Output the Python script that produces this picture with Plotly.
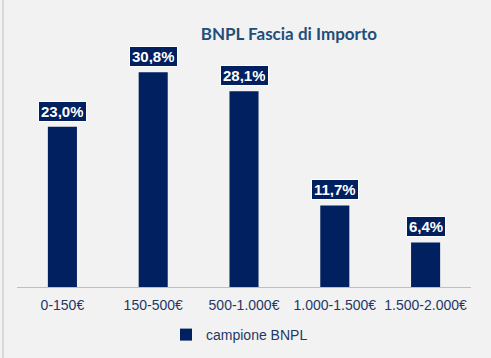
import plotly.graph_objects as go

categories = ["0-150€", "150-500€", "500-1.000€", "1.000-1.500€", "1.500-2.000€"]
values = [23.0, 30.8, 28.1, 11.7, 6.4]
series_name = "campione BNPL"
title_text = "BNPL Fascia di Importo"

NAVY = "#002060"
TXT = "#1F3864"
BG = "#F2F2F2"

W, H = 491, 358
L, R, T, B = 17, 20, 40, 71
PW, PH = W - L - R, H - T - B

fig = go.Figure()
fig.add_trace(go.Bar(
    x=categories, y=values, name=series_name,
    marker=dict(color=NAVY, line=dict(width=0)),
    width=0.32, showlegend=True,
))

for c, v in zip(categories, values):
    fig.add_annotation(
        x=c, y=v, xref="x", yref="y",
        text=f"{v:.1f}%".replace(".", ","),
        showarrow=False, yanchor="bottom", yshift=5,
        font=dict(family="Liberation Sans, Arial", size=15, color="white", weight="bold"),
        bgcolor=NAVY, bordercolor="white", borderwidth=1, borderpad=2, height=15,
    )

fig.update_layout(
    width=W, height=H,
    margin=dict(l=L, r=R, t=T, b=B, pad=0, autoexpand=False),
    paper_bgcolor=BG, plot_bgcolor=BG,
    title=dict(text=title_text, x=294 / W, xanchor="center", xref="paper",
               y=1 - 34 / H, yanchor="middle", yref="container",
               font=dict(family="Lato, Open Sans, sans-serif", size=17, color="#1F4E79", weight="bold")),
    xaxis=dict(showgrid=False, showline=True, linecolor="#BFBFBF", linewidth=1,
               ticks="", ticklabelstandoff=5, automargin=False,
               tickfont=dict(family="Liberation Sans, Arial", size=14, color=TXT),
               fixedrange=True),
    yaxis=dict(range=[0, 35.44], visible=False, showgrid=False, zeroline=False, fixedrange=True),
    legend=dict(orientation="h", x=(166 - L) / PW, xanchor="left",
                yref="container", y=1 - 335 / H, yanchor="middle",
                font=dict(family="Liberation Sans, Arial", size=14, color=TXT),
                bgcolor="rgba(0,0,0,0)", itemwidth=30),
    showlegend=True,
    bargap=0.68,
)

fig.add_shape(type="line", xref="paper", yref="paper",
              x0=(3 - L) / PW, x1=(3 - L) / PW, y0=-B / PH, y1=1 + T / PH,
              line=dict(color="#D9D9D9", width=2))

fig.write_html("out.html", config={"displayModeBar": False},
               post_script="document.body.style.margin='0';document.body.style.overflow='hidden';")
